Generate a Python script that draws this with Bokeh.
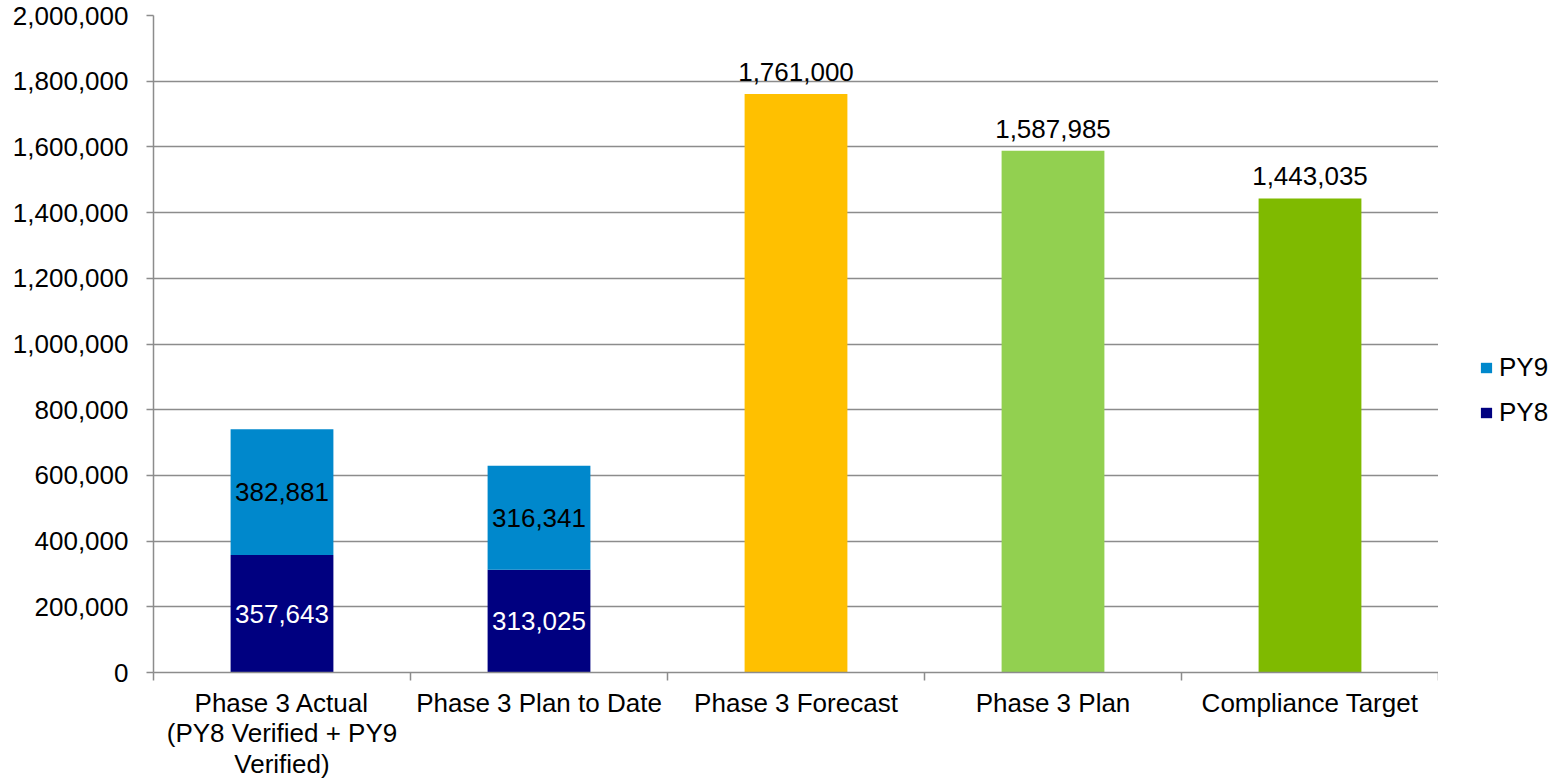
from bokeh.plotting import figure
from bokeh.layouts import column, row
from bokeh.models import (ColumnDataSource, Range1d, FixedTicker, NumeralTickFormatter,
                          Legend, LegendItem, LinearAxis)
from bokeh.core.properties import value
from bokeh.embed import file_html
from bokeh.resources import INLINE

# ---- data ----
categories = ["Phase 3 Actual\n(PY8 Verified + PY9\nVerified)", "Phase 3 Plan to Date",
              "Phase 3 Forecast", "Phase 3 Plan", "Compliance Target"]
py8 = [357643, 313025]
py9 = [382881, 316341]
single_values = [1761000, 1587985, 1443035]
single_colors = ["#FFC000", "#92D050", "#7FBA00"]
series_names = ["PY8", "PY9"]
series_colors = ["#000080", "#0088CC"]
y_ticks = [0, 200000, 400000, 600000, 800000, 1000000, 1200000, 1400000, 1600000, 1800000, 2000000]

FONT = "Liberation Sans"
FS = "26px"
GRID = "#8c8c8c"

n = len(categories)
centers = [i + 0.5 for i in range(n)]
x_range = Range1d(0, n)


def clean(fig):
    fig.outline_line_color = None
    fig.background_fill_color = "white"
    fig.border_fill_color = "white"


# ---- main plot ----
p = figure(width=1438, height=686, output_backend="svg", toolbar_location=None,
           x_range=x_range, y_range=Range1d(0, 2000000),
           x_axis_location=None, y_axis_location=None,
           min_border_left=153, min_border_right=0, min_border_top=15, min_border_bottom=14)
clean(p)

yax = LinearAxis(ticker=FixedTicker(ticks=y_ticks), formatter=NumeralTickFormatter(format="0,0"))
yax.major_tick_out = 7
yax.major_tick_in = 0
yax.minor_tick_out = 0
yax.minor_tick_in = 0
yax.axis_line_color = GRID
yax.major_tick_line_color = GRID
yax.axis_line_width = 1.5
yax.major_tick_line_width = 1.5
yax.major_label_text_font = FONT
yax.major_label_text_font_size = FS
yax.major_label_text_color = "black"
yax.major_label_standoff = 18
p.add_layout(yax, "left")

xax = LinearAxis(ticker=FixedTicker(ticks=[], minor_ticks=list(range(n + 1))))
xax.major_tick_out = 0
xax.major_tick_in = 0
xax.minor_tick_out = 8
xax.minor_tick_in = 0
xax.minor_tick_line_color = GRID
xax.minor_tick_line_width = 1.5
xax.axis_line_color = GRID
xax.axis_line_width = 1.5
xax.major_label_standoff = 0
xax.major_label_text_font_size = "1px"
p.add_layout(xax, "below")

p.xgrid.visible = False
p.ygrid.ticker = FixedTicker(ticks=y_ticks)
p.ygrid.grid_line_color = GRID
p.ygrid.grid_line_width = 1.5

stack_src = ColumnDataSource(dict(x=centers[:2], PY8=py8, PY9=py9))
p.vbar_stack(series_names, x="x", width=0.4, source=stack_src,
             color=series_colors, line_color=None)

single_src = ColumnDataSource(dict(x=centers[2:], top=single_values, color=single_colors))
p.vbar(x="x", top="top", width=0.4, source=single_src, fill_color="color", line_color=None)

lab8 = ColumnDataSource(dict(x=centers[:2], y=[v / 2 for v in py8], t=[f"{v:,}" for v in py8]))
p.text(x="x", y="y", text="t", source=lab8, text_color="white", text_font=value(FONT),
       text_font_size=FS, text_align="center", text_baseline="middle")
lab9 = ColumnDataSource(dict(x=centers[:2], y=[a + b / 2 for a, b in zip(py8, py9)],
                             t=[f"{v:,}" for v in py9]))
p.text(x="x", y="y", text="t", source=lab9, text_color="black", text_font=value(FONT),
       text_font_size=FS, text_align="center", text_baseline="middle")
labs = ColumnDataSource(dict(x=centers[2:], y=single_values, t=[f"{v:,}" for v in single_values]))
p.text(x="x", y="y", text="t", source=labs, text_color="black", text_font=value(FONT),
       text_font_size=FS, text_align="center", text_baseline="middle", y_offset=-22)

# ---- category label strip (shares x range) ----
q = figure(width=1438, height=93, output_backend="svg", toolbar_location=None,
           x_range=x_range, y_range=Range1d(0, 1),
           x_axis_location=None, y_axis_location=None,
           min_border_left=153, min_border_right=0, min_border_top=0, min_border_bottom=0)
clean(q)
q.xgrid.visible = False
q.ygrid.visible = False
cat_src = ColumnDataSource(dict(x=centers, y=[1] * n, t=categories))
q.text(x="x", y="y", text="t", source=cat_src, text_color="black", text_font=value(FONT),
       text_font_size=FS, text_align="center", text_baseline="top", text_line_height=1.02,
       y_offset=1)

# ---- legend panel (series drawn off-range so only the legend shows) ----
r = figure(width=119, height=779, output_backend="svg", toolbar_location=None,
           x_range=Range1d(-3, -2), y_range=Range1d(0, 1),
           x_axis_location=None, y_axis_location=None,
           min_border_left=0, min_border_right=0, min_border_top=15, min_border_bottom=107)
clean(r)
r.xgrid.visible = False
r.ygrid.visible = False
leg_renderers = r.vbar_stack(series_names, x="x", width=0.4, source=stack_src,
                             color=series_colors, line_color=None)
legend = Legend(items=[LegendItem(label=series_names[1], renderers=[leg_renderers[1]]),
                       LegendItem(label=series_names[0], renderers=[leg_renderers[0]])],
                location=(41, 244))
legend.border_line_color = None
legend.background_fill_alpha = 0
legend.padding = 0
legend.margin = 0
legend.glyph_width = 14
legend.glyph_height = 13
legend.label_standoff = 6
legend.label_height = 30
legend.spacing = 14
legend.label_text_font = FONT
legend.label_text_font_size = FS
legend.label_text_color = "black"
r.add_layout(legend, "center")

layout = row(column(p, q, spacing=0), r, spacing=0)
open("out.html", "w").write(file_html(layout, INLINE))
